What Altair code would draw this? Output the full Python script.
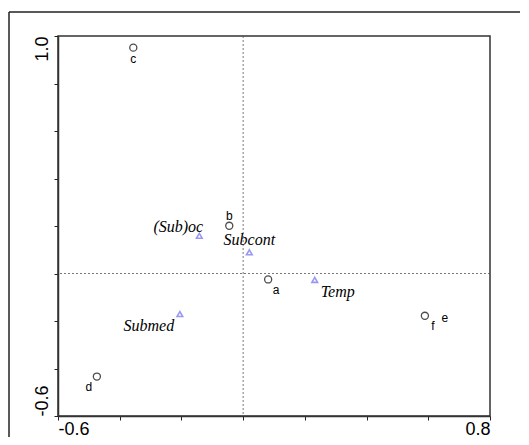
import altair as alt
import pandas as pd

# Sites (circles)
site_names = ["a", "b", "c", "d", "e", "f"]
site_x = [0.081, -0.045, -0.356, -0.474, 0.589, 0.589]
site_y = [-0.025, 0.201, 0.951, -0.434, -0.178, -0.178]

# Climate types (triangles)
clim_names = ["(Sub)oc", "Subcont", "Temp", "Submed"]
clim_x = [-0.142, 0.020, 0.232, -0.205]
clim_y = [0.159, 0.089, -0.027, -0.171]

x_ticks = [-0.6, -0.4, -0.2, 0.0, 0.2, 0.4, 0.6, 0.8]
y_ticks = [-0.6, -0.4, -0.2, 0.0, 0.2, 0.4, 0.6, 0.8, 1.0]
x_tick_labels = [-0.6, 0.8]
y_tick_labels = [-0.6, 1.0]

sites = pd.DataFrame({"name": site_names, "x": site_x, "y": site_y})
clim = pd.DataFrame({"name": clim_names, "x": clim_x, "y": clim_y})

# label offsets (style)
site_off = {"a": (8, 11), "b": (0, -10), "c": (0, 11), "d": (-8, 10),
            "e": (20, 2), "f": (8, 10)}
clim_off = {"(Sub)oc": (-21, -9), "Subcont": (0, -12), "Temp": (23, 12),
            "Submed": (-31, 12)}

xs = alt.Scale(domain=[-0.6, 0.8], nice=False, zero=False)
ys = alt.Scale(domain=[-0.6, 1.0], nice=False, zero=False)


def lab_expr(vals):
    cond = " || ".join(f"abs(datum.value - ({v})) < 1e-6" for v in vals)
    return f"{cond} ? (datum.value < 0 ? '-' : '') + format(abs(datum.value), '.1f') : ''"


x_axis = alt.Axis(values=x_ticks, labelExpr=lab_expr(x_tick_labels), title=None, grid=False,
                  domain=True, domainColor="#333", domainWidth=1.5,
                  tickSize=4, tickColor="#222", labelFont="Liberation Sans",
                  labelFontSize=18, labelColor="#000", labelPadding=0,
                  labelBaseline="top", labelFlush=True)
y_axis = alt.Axis(values=y_ticks, labelExpr=lab_expr(y_tick_labels), title=None, grid=False,
                  domain=True, domainColor="#333", domainWidth=1.5,
                  tickSize=4, tickColor="#222", labelFont="Liberation Sans",
                  labelFontSize=18, labelColor="#000", labelPadding=7, labelAngle=270,
                  labelBaseline="alphabetic", labelFlush=False,
                  labelAlign={"condition": {"test": "datum.value > 0.5", "value": "right"},
                              "value": "left"})

X = alt.X("x:Q", scale=xs, axis=x_axis)
Y = alt.Y("y:Q", scale=ys, axis=y_axis)

one = pd.DataFrame({"k": [0]})
frame_top = alt.Chart(one).mark_rule(color="#222", strokeWidth=1.5).encode(
    x=alt.value(-49), x2=alt.value(800), y=alt.value(-24))
frame_left = alt.Chart(one).mark_rule(color="#222", strokeWidth=1.5).encode(
    x=alt.value(-49), y=alt.value(-24), y2=alt.value(800))

zero_v = alt.Chart(pd.DataFrame({"x": [0.0]})).mark_rule(
    color="#555", strokeWidth=0.8, strokeDash=[2, 2]).encode(x=alt.X("x:Q", scale=xs))
zero_h = alt.Chart(pd.DataFrame({"y": [0.0]})).mark_rule(
    color="#555", strokeWidth=0.8, strokeDash=[2, 2]).encode(y=alt.Y("y:Q", scale=ys))

circ = alt.Chart(sites).transform_filter("datum.name != 'e'").mark_point(
    shape="circle", size=50, filled=False, color="#000", strokeWidth=1.3
).encode(x=X, y=Y)

tri = alt.Chart(clim).mark_point(
    shape="triangle-up", size=32, filled=False, color="#6f6ff0", strokeWidth=1.6
).encode(x=alt.X("x:Q", scale=xs), y=alt.Y("y:Q", scale=ys))

layers = [frame_top, frame_left, zero_v, zero_h, circ, tri]

for n, (dx, dy) in site_off.items():
    layers.append(
        alt.Chart(sites).transform_filter(f"datum.name == '{n}'").mark_text(
            font="Liberation Sans", fontSize=12, color="#000", dx=dx, dy=dy,
            align="center", baseline="middle"
        ).encode(x=alt.X("x:Q", scale=xs), y=alt.Y("y:Q", scale=ys), text="name:N")
    )

for n, (dx, dy) in clim_off.items():
    layers.append(
        alt.Chart(clim).transform_filter(f"datum.name == '{n}'").mark_text(
            font="Liberation Serif", fontStyle="italic", fontSize=16, color="#000",
            dx=dx, dy=dy, align="center", baseline="middle"
        ).encode(x=alt.X("x:Q", scale=xs), y=alt.Y("y:Q", scale=ys), text="name:N")
    )

chart = alt.layer(*layers).properties(
    width=432, height=380,
    background="white",
    autosize=alt.AutoSizeParams(type="none"),
    padding={"left": 50, "top": 28, "right": 30, "bottom": 21},
).configure_view(stroke="#333", strokeWidth=1.5)

chart.save("out.html", embed_options={"renderer": "svg", "actions": False})
